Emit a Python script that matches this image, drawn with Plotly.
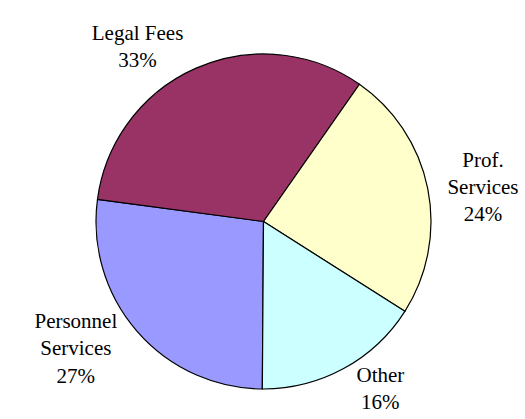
import plotly.graph_objects as go

labels = ["Personnel<br>Services", "Legal Fees", "Prof.<br>Services", "Other"]
values = [27.0, 32.6, 24.3, 16.1]
colors = ["#9999FF", "#993366", "#FFFFCC", "#CCFFFF"]

fig = go.Figure(go.Pie(
    labels=labels,
    values=values,
    sort=False,
    direction="clockwise",
    rotation=180.4,
    marker=dict(colors=colors, line=dict(color="black", width=1.2)),
    textposition="outside",
    texttemplate="%{label}<br>%{percent:.0%}",
    textfont=dict(family="Liberation Serif, Times New Roman, serif", size=21, color="black"),
    showlegend=False,
    hoverinfo="label+percent",
))

fig.update_layout(
    width=525, height=419,
    margin=dict(l=95, r=91, t=54, b=27),
    paper_bgcolor="white",
    plot_bgcolor="white",
    font=dict(family="Liberation Serif, Times New Roman, serif", size=21, color="black"),
)

fig.write_html(
    "out.html",
    config={"displayModeBar": False},
    post_script="document.body.style.margin='0px';document.body.style.overflow='hidden';",
)
